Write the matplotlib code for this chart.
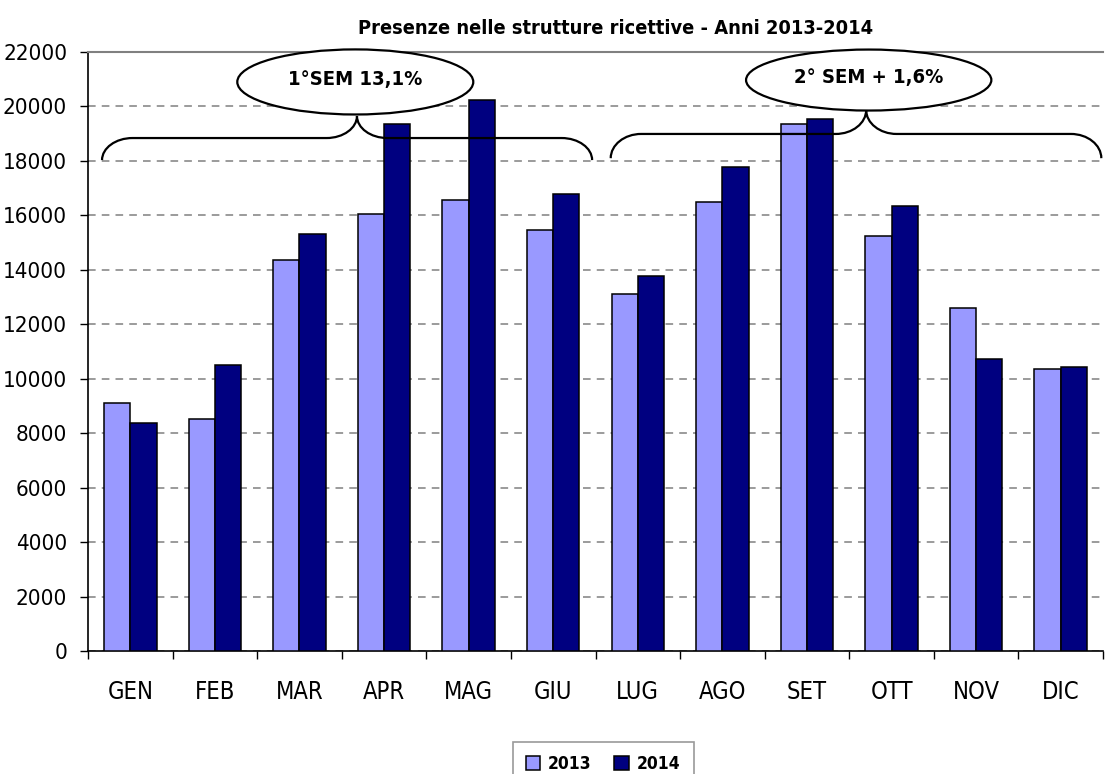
import numpy as np
import matplotlib
matplotlib.use("Agg")
import matplotlib.pyplot as plt
from matplotlib.patches import Ellipse, PathPatch
from matplotlib.path import Path

plt.rcParams['font.family'] = ['DejaVu Sans']
plt.rcParams['font.stretch'] = 'condensed'

# dati
mesi = ['GEN', 'FEB', 'MAR', 'APR', 'MAG', 'GIU', 'LUG', 'AGO', 'SET', 'OTT', 'NOV', 'DIC']
anni = ['2013', '2014']
presenze_2013 = [9100, 8520, 14370, 16060, 16570, 15470, 13110, 16500, 19340, 15260, 12590, 10370]
presenze_2014 = [8370, 10510, 15310, 19340, 20240, 16800, 13780, 17770, 19550, 16360, 10740, 10430]
semestri = ['1°SEM 13,1%', '2° SEM + 1,6%']

col_2013 = '#9999FF'
col_2014 = '#000080'

fig = plt.figure(figsize=(11.07, 7.74), dpi=100)
ax = fig.add_axes([88/1107, 1 - 651/774, (1103-88)/1107, (651-52)/774])

x = np.arange(len(mesi))
w = 0.31
ax.bar(x - w/2, presenze_2013, w, color=col_2013, edgecolor='black', linewidth=1.1, label=anni[0], zorder=3)
ax.bar(x + w/2, presenze_2014, w, color=col_2014, edgecolor='black', linewidth=1.1, label=anni[1], zorder=3)

ax.set_xlim(-0.5, len(mesi) - 0.5)
ax.set_ylim(0, 22000)
ax.set_yticks(np.arange(0, 22001, 2000))
ax.yaxis.grid(True, color='#808080', linestyle=(0, (5, 4)), linewidth=1.1)
ax.set_axisbelow(True)

# tick sui confini, etichette al centro
ax.set_xticks(np.arange(-0.5, len(mesi), 1.0))
ax.set_xticklabels([])
ax.set_xticks(x, minor=True)
ax.set_xticklabels(mesi, minor=True)
ax.tick_params(axis='x', which='major', length=6, width=1, color='black', direction='out')
ax.tick_params(axis='x', which='minor', length=0, pad=21, labelsize=17)
ax.tick_params(axis='y', length=6, width=1, direction='out', pad=9, labelsize=16)

ax.spines['right'].set_visible(False)
ax.spines['top'].set_color('#808080')
ax.spines['top'].set_linewidth(1.5)
ax.spines['left'].set_linewidth(1.2)
ax.spines['bottom'].set_linewidth(1.2)

fig.text(616/1107, 1 - 28/774, 'Presenze nelle strutture ricettive - Anni 2013-2014',
         ha='center', va='center', fontsize=14.3, fontweight='bold')


# parentesi graffa orizzontale
def parentesi(x0, x1, xm, ye, yh, yt, r):
    k = 0.55
    verts = [(x0, ye), (x0, ye + k*(yh-ye)), (x0 + (1-k)*r, yh), (x0 + r, yh),
             (xm - r, yh),
             (xm - (1-k)*r, yh), (xm, yh + (1-k)*(yt-yh)), (xm, yt),
             (xm, yh + (1-k)*(yt-yh)), (xm + (1-k)*r, yh), (xm + r, yh),
             (x1 - r, yh),
             (x1 - (1-k)*r, yh), (x1, ye + k*(yh-ye)), (x1, ye)]
    codes = [Path.MOVETO, Path.CURVE4, Path.CURVE4, Path.CURVE4,
             Path.LINETO,
             Path.CURVE4, Path.CURVE4, Path.CURVE4,
             Path.CURVE4, Path.CURVE4, Path.CURVE4,
             Path.LINETO,
             Path.CURVE4, Path.CURVE4, Path.CURVE4]
    ax.add_patch(PathPatch(Path(verts, codes), facecolor='none', edgecolor='black',
                           linewidth=1.6, zorder=5, clip_on=False))


parentesi(-0.334, 5.46, 2.68, 18030, 18840, 19650, 0.36)
parentesi(5.68, 11.48, 8.70, 18100, 18990, 19870, 0.36)

for cx, cy, ew, eh, testo in [(2.66, 20900, 2.79, 2390, semestri[0]),
                              (8.73, 20970, 2.90, 2240, semestri[1])]:
    ax.add_patch(Ellipse((cx, cy), ew, eh, facecolor='white', edgecolor='black',
                         linewidth=1.6, zorder=6, clip_on=False))
    ax.text(cx, cy + 100, testo, ha='center', va='center', fontsize=14.5,
            fontweight='bold', zorder=7)

leg = fig.legend(loc='upper center', bbox_to_anchor=(603/1107, 1 - 733/774), ncol=2,
                 frameon=True, fancybox=False, edgecolor='#808080',
                 handlelength=0.85, handleheight=0.85, handletextpad=0.45,
                 columnspacing=1.3, borderpad=0.75,
                 prop={'size': 12.5, 'weight': 'bold'})
leg.get_frame().set_linewidth(1.2)

fig.savefig('out.png', dpi=100)
